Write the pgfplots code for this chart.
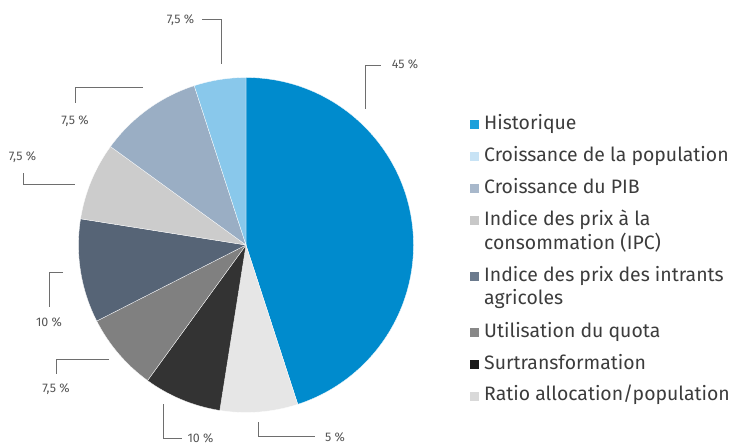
\documentclass[border=0pt]{standalone}
\usepackage{pgfplots}
\usepackage{pgfplotstable}
\pgfplotsset{compat=1.18}
\usepackage{fontspec}
\setmainfont{Fira Sans}
\definecolor{cHist}{HTML}{008BCD}
\definecolor{cPop}{HTML}{89C8EB}
\definecolor{cPIB}{HTML}{9AAEC4}
\definecolor{cIPC}{HTML}{CCCCCC}
\definecolor{cIntr}{HTML}{566476}
\definecolor{cQuota}{HTML}{808080}
\definecolor{cSurt}{HTML}{333333}
\definecolor{cRatio}{HTML}{E6E6E6}
% legend swatch colours
\definecolor{lHist}{HTML}{1BA0DB}
\definecolor{lPop}{HTML}{C8E3F5}
\definecolor{lPIB}{HTML}{A8B8CB}
\definecolor{lIPC}{HTML}{C8C8C8}
\definecolor{lIntr}{HTML}{6B7A8D}
\definecolor{lQuota}{HTML}{888888}
\definecolor{lSurt}{HTML}{1A1A1A}
\definecolor{lRatio}{HTML}{D9D9D9}
\definecolor{cText}{HTML}{3C3C3C}
\definecolor{cLab}{HTML}{555555}
\definecolor{cLine}{HTML}{6E6E6E}

% slices clockwise from 12 o'clock (share in %)
\pgfplotstableread{
value color
45  cHist
7.5 cRatio
7.5 cSurt
7.5 cQuota
10  cIntr
7.5 cIPC
10  cPIB
5   cPop
}\piedata

\def\wedges{}%
\def\cumang{90}%
\pgfplotsforeachungrouped \i in {0,...,7}{%
  \pgfplotstablegetelem{\i}{value}\of\piedata \let\wval\pgfplotsretval
  \pgfplotstablegetelem{\i}{color}\of\piedata \let\wcol\pgfplotsretval
  \pgfmathsetmacro\endang{\cumang-3.6*\wval}%
  \xdef\wedges{\unexpanded\expandafter{\wedges}\noexpand\filldraw[fill=\wcol, draw=white, line width=0.3bp] (axis cs:246,245) -- ++(\cumang:167.5bp) arc[start angle=\cumang, end angle=\endang, radius=167.5bp] -- cycle;}%
  \global\let\cumang\endang
}%

\newcommand\legitem[3]{% baseline y, colour, text
  \fill[#2] (axis cs:470,#1-9) rectangle (axis cs:479,#1);
  \node[anchor=base west, inner sep=0pt, font=\fontsize{19.5}{24}\selectfont, text=cText] at (axis cs:484,#1) {#3};
}

\begin{document}
\begin{tikzpicture}
\begin{axis}[
  scale only axis, width=735bp, height=444bp,
  xmin=0, xmax=735, ymin=0, ymax=444, y dir=reverse,
  hide axis, clip=false,
]
\path (axis cs:0,0) rectangle (axis cs:735,444);
\wedges

% legend
\legitem{129}{lHist}{Historique}
\legitem{161}{lPop}{Croissance de la population}
\legitem{193}{lPIB}{Croissance du PIB}
\legitem{225}{lIPC}{Indice des prix à la}
\node[anchor=base west, inner sep=0pt, font=\fontsize{19.5}{24}\selectfont, text=cText] at (axis cs:484,249) {consommation (IPC)};
\legitem{281}{lIntr}{Indice des prix des intrants}
\node[anchor=base west, inner sep=0pt, font=\fontsize{19.5}{24}\selectfont, text=cText] at (axis cs:484,304.5) {agricoles};
\legitem{337}{lQuota}{Utilisation du quota}
\legitem{369}{lSurt}{Surtransformation}
\legitem{400.5}{lRatio}{Ratio allocation/population}

% leader lines
\draw[cLine, line width=0.8bp] (axis cs:365,109) -- (axis cs:365,65) -- (axis cs:381,65);
\draw[cLine, line width=0.8bp] (axis cs:202,19) -- (axis cs:221,19) -- (axis cs:221,64);
\draw[cLine, line width=0.8bp] (axis cs:143,87) -- (axis cs:75,87) -- (axis cs:75,103);
\draw[cLine, line width=0.8bp] (axis cs:23,173) -- (axis cs:23,184) -- (axis cs:75,184);
\draw[cLine, line width=0.8bp] (axis cs:63,272) -- (axis cs:49,272) -- (axis cs:49,307);
\draw[cLine, line width=0.8bp] (axis cs:109,359) -- (axis cs:56,359) -- (axis cs:56,374);
\draw[cLine, line width=0.8bp] (axis cs:163,404) -- (axis cs:163,438) -- (axis cs:182,438);
\draw[cLine, line width=0.8bp] (axis cs:258,422) -- (axis cs:258,436) -- (axis cs:315,436);

% slice labels
\begin{scope}[every node/.style={font=\fontsize{12.5}{14}\selectfont, text=cLab, inner sep=0pt}]
\node at (axis cs:405,64) {45 \%};
\node at (axis cs:180.5,20) {7,5 \%};
\node at (axis cs:75,121) {7,5 \%};
\node at (axis cs:22.5,157) {7,5 \%};
\node at (axis cs:49,322) {10 \%};
\node at (axis cs:56,389) {7,5 \%};
\node at (axis cs:200.5,438) {10 \%};
\node at (axis cs:335,437) {5 \%};
\end{scope}
\end{axis}
\end{tikzpicture}
\end{document}
